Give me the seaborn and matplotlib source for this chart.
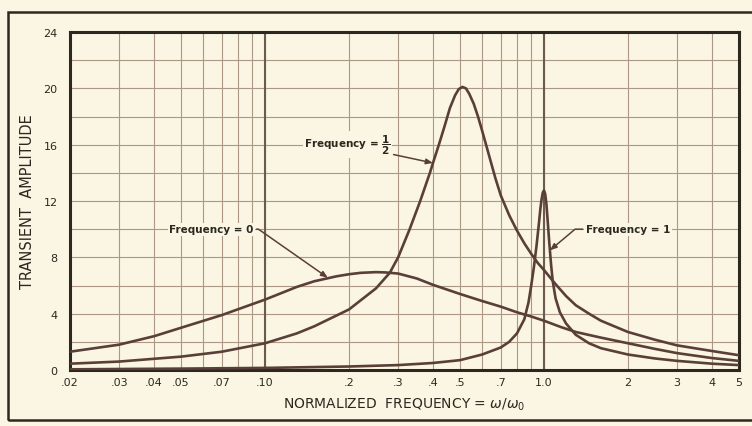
import matplotlib
matplotlib.use("Agg")
import matplotlib.pyplot as plt
from matplotlib.patches import Rectangle
import seaborn as sns
import pandas as pd

# ---------------- data ----------------
freq0_w = [0.02, 0.03, 0.04, 0.05, 0.07, 0.1, 0.13, 0.15, 0.18, 0.2, 0.22, 0.25,
           0.27, 0.3, 0.35, 0.4, 0.5, 0.6, 0.7, 0.8, 0.9, 1.0, 1.15, 1.3, 1.6,
           2.0, 2.5, 3.0, 4.0, 5.0]
freq0_a = [1.3, 1.8, 2.4, 3.0, 3.9, 5.0, 5.9, 6.3, 6.65, 6.8, 6.9, 6.95,
           6.93, 6.85, 6.5, 6.05, 5.4, 4.9, 4.5, 4.1, 3.8, 3.5, 3.05, 2.7, 2.3,
           1.9, 1.5, 1.2, 0.85, 0.65]

freqh_w = [0.02, 0.03, 0.05, 0.07, 0.1, 0.13, 0.15, 0.2, 0.25, 0.28, 0.3, 0.33,
           0.36, 0.39, 0.4, 0.42, 0.44, 0.46, 0.48, 0.495, 0.51, 0.525, 0.54,
           0.56, 0.58, 0.6, 0.63, 0.67, 0.7, 0.75, 0.8, 0.85, 0.9, 0.95, 1.0,
           1.1, 1.2, 1.3, 1.45, 1.6, 2.0, 2.5, 3.0, 4.0, 5.0]
freqh_a = [0.45, 0.6, 0.95, 1.3, 1.9, 2.6, 3.1, 4.3, 5.8, 6.9, 8.0, 10.0,
           12.0, 14.0, 14.7, 16.0, 17.3, 18.6, 19.5, 19.95, 20.1, 20.0, 19.6,
           18.9, 18.0, 17.0, 15.5, 13.6, 12.4, 11.0, 9.9, 9.0, 8.25, 7.6, 7.1,
           6.1, 5.25, 4.6, 4.0, 3.5, 2.7, 2.15, 1.75, 1.35, 1.05]

freq1_w = [0.02, 0.05, 0.1, 0.2, 0.3, 0.4, 0.5, 0.6, 0.7, 0.75, 0.8, 0.85, 0.88,
           0.9, 0.92, 0.94, 0.96, 0.97, 0.98, 0.99, 1.0, 1.01, 1.02, 1.03, 1.045,
           1.06, 1.075, 1.1, 1.14, 1.2, 1.3, 1.45, 1.6, 2.0, 2.5, 3.0, 4.0, 5.0]
freq1_a = [0.05, 0.1, 0.15, 0.25, 0.35, 0.5, 0.7, 1.1, 1.6, 2.0, 2.6, 3.6, 4.8,
           6.0, 7.3, 8.8, 10.5, 11.4, 12.1, 12.6, 12.75, 12.5, 11.8, 10.7, 9.0,
           7.5, 6.3, 5.1, 4.1, 3.3, 2.5, 1.9, 1.55, 1.1, 0.82, 0.65, 0.45, 0.35]

x_tick_vals = [0.02, 0.03, 0.04, 0.05, 0.07, 0.1, 0.2, 0.3, 0.4, 0.5, 0.7, 1.0, 2, 3, 4, 5]
x_tick_labels = [".02", ".03", ".04", ".05", ".07", ".10", ".2", ".3", ".4", ".5",
                 ".7", "1.0", "2", "3", "4", "5"]
x_minor_vals = [0.06, 0.08, 0.09, 0.6, 0.8, 0.9]
y_tick_vals = [0, 4, 8, 12, 16, 20, 24]
y_minor_vals = [2, 6, 10, 14, 18, 22]

# ---------------- styling ----------------
BG = "#faf6e3"
INK = "#2b2820"
CURVE = "#5a3f38"
GRID = "#ad9886"

sns.set_theme(style="white")
plt.rcParams["font.family"] = ["DejaVu Sans"]

fig = plt.figure(figsize=(7.52, 4.27), dpi=100, facecolor=BG)
ax = fig.add_axes([0.0931, 0.1311, 0.8896, 0.7916])
ax.set_facecolor(BG)

for w, a in [(freq0_w, freq0_a), (freqh_w, freqh_a), (freq1_w, freq1_a)]:
    df = pd.DataFrame({"w": w, "a": a})
    sns.lineplot(data=df, x="w", y="a", ax=ax, color=CURVE, lw=1.9,
                 estimator=None, sort=False, zorder=3)

ax.set_xscale("log")
ax.set_xlim(0.02, 5)
ax.set_ylim(0, 24)

ax.set_xticks(x_tick_vals)
ax.set_xticklabels(x_tick_labels)
ax.set_xticks(x_minor_vals, minor=True)
ax.set_xticklabels([], minor=True)
ax.set_yticks(y_tick_vals)
ax.set_yticks(y_minor_vals, minor=True)

ax.grid(True, which="both", color=GRID, lw=0.8, zorder=1)
for xv in (0.1, 1.0):
    ax.axvline(xv, color="#6b5a4f", lw=1.5, zorder=1.5)

ax.tick_params(axis="both", which="both", length=0)
ax.tick_params(axis="x", pad=5, labelsize=8, labelcolor=INK)
ax.tick_params(axis="y", pad=9, labelsize=8, labelcolor=INK)

for s in ax.spines.values():
    s.set_color(INK)
    s.set_linewidth(2.2)

ax.set_xlabel(r"NORMALIZED  FREQUENCY = $\omega/\omega_0$", fontsize=10,
              color=INK, labelpad=6)
ax.set_ylabel("TRANSIENT  AMPLITUDE", fontsize=10.5, color=INK, labelpad=6)

# ---------------- annotations ----------------
tbox = dict(boxstyle="square,pad=0.15", facecolor=BG, edgecolor="none")
arrow_kw = dict(arrowstyle="-|>,head_length=0.5,head_width=0.2", color=CURVE,
                lw=1.1, shrinkA=1, shrinkB=0, mutation_scale=8)

ax.annotate("Frequency = 0", xy=(0.168, 6.55), xytext=(0.091, 10),
            ha="right", va="center", fontsize=7.5, fontweight="bold", color=INK,
            bbox=tbox, zorder=4,
            arrowprops=dict(connectionstyle="angle,angleA=0,angleB=145,rad=0",
                            **arrow_kw))

ax.annotate(r"Frequency = $\mathbf{\dfrac{1}{2}}$", xy=(0.40, 14.7),
            xytext=(0.282, 16), ha="right", va="center", fontsize=7.5,
            fontweight="bold", color=INK, bbox=tbox, zorder=4,
            arrowprops=dict(connectionstyle="arc3,rad=0", **arrow_kw))

ax.annotate("Frequency = 1", xy=(1.05, 8.5), xytext=(1.41, 10),
            ha="left", va="center", fontsize=7.5, fontweight="bold", color=INK,
            bbox=tbox, zorder=4,
            arrowprops=dict(connectionstyle="angle,angleA=0,angleB=40,rad=0",
                            **arrow_kw))

# outer frame of the figure
fig.patches.append(Rectangle((0.0106, 0.014), 1.2, 0.955, transform=fig.transFigure,
                             fill=False, edgecolor=INK, lw=1.8, zorder=0))

fig.savefig("out.png", dpi=100, facecolor=BG)
